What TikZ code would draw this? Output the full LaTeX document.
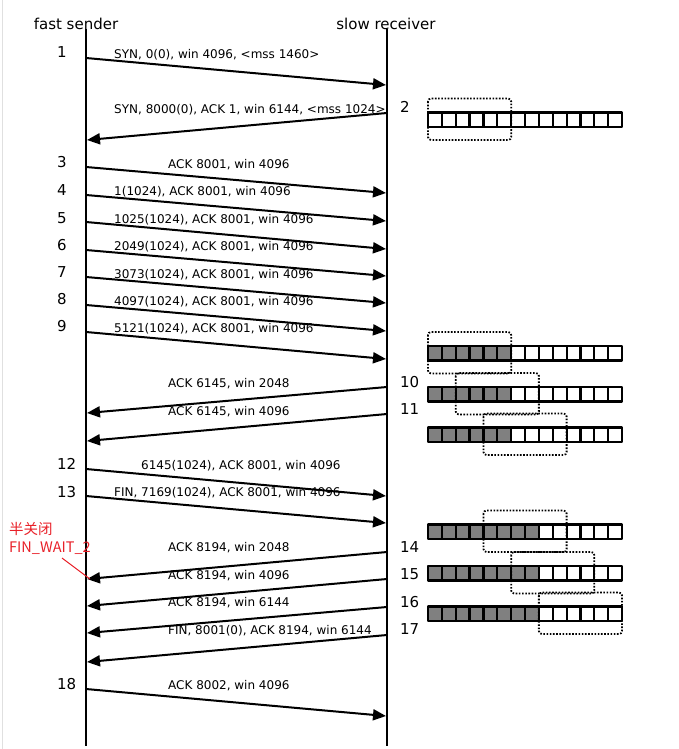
\documentclass[tikz,border=0pt]{standalone}
\usepackage{fontspec}
\setmainfont{DejaVu Sans}
\newfontfamily\cjk{Noto Sans CJK SC}
\usetikzlibrary{arrows.meta}
\definecolor{cellgray}{HTML}{808080}
\definecolor{annred}{RGB}{232,32,40}
\begin{document}
\begin{tikzpicture}[x=1pt,y=-1pt,
  title/.style={font=\fontsize{15}{17}\selectfont, inner sep=0pt},
  num/.style={font=\fontsize{15}{17}\selectfont, inner sep=0pt, anchor=west},
  msg/.style={font=\fontsize{12}{14}\selectfont, inner sep=0pt, anchor=west},
  life/.style={line width=2pt},
  pkt/.style={line width=2pt, -{Triangle[length=13pt,width=11pt]}},
  cell/.style={line width=2.2pt, line join=round},
  win/.style={line width=1.8pt, dash pattern=on 1.6pt off 1.6pt, rounded corners=3pt},
  ann/.style={text=annred, inner sep=0pt, anchor=west, font=\cjk\fontsize{14.5}{16}\selectfont}]
\useasboundingbox (0,0) rectangle (679,749);
\draw[black!12, line width=1pt] (2.5,0) -- (2.5,749);

% titles and lifelines
\node[title] (snd) at (76,24) {fast sender};
\node[title] (rcv) at (386,24) {slow receiver};
\coordinate (stop) at (86,29);
\coordinate (sbot) at (86,746);
\coordinate (rtop) at (387,29);
\coordinate (rbot) at (387,746);
\draw[life] (stop) -- (sbot);
\draw[life] (rtop) -- (rbot);

% sender -> receiver
\foreach \i/\ys/\yr in {1/58/85, 3/167/193, 4/195/221, 5/222/249, 6/250/276, 7/277/303, 8/305/331, 9/332/359, 12/469/496, 13/496/523, 18/689/716}{
  \coordinate (s\i) at (86,\ys);
  \coordinate (r\i) at (386,\yr);
  \draw[pkt] (s\i) -- (r\i);
}
% receiver -> sender
\foreach \i/\yr/\ys in {2/113/140, 10/387/413, 11/414/441, 14/552/579, 15/579/606, 16/607/633, 17/635/662}{
  \coordinate (r\i) at (387,\yr);
  \coordinate (s\i) at (87,\ys);
  \draw[pkt] (r\i) -- (s\i);
}

% message labels
\node[msg] (m1) at (114,55) {SYN, 0(0), win 4096, <mss 1460>};
\node[msg] (m2) at (114,110) {SYN, 8000(0), ACK 1, win 6144, <mss 1024>};
\node[msg] (m3) at (168,165) {ACK 8001, win 4096};
\node[msg] (m4) at (114,192) {1(1024), ACK 8001, win 4096};
\node[msg] (m5) at (114,220) {1025(1024), ACK 8001, win 4096};
\node[msg] (m6) at (114,247) {2049(1024), ACK 8001, win 4096};
\node[msg] (m7) at (114,275) {3073(1024), ACK 8001, win 4096};
\node[msg] (m8) at (114,302) {4097(1024), ACK 8001, win 4096};
\node[msg] (m9) at (114,329) {5121(1024), ACK 8001, win 4096};
\node[msg] (m10) at (168,384) {ACK 6145, win 2048};
\node[msg] (m11) at (168,412) {ACK 6145, win 4096};
\node[msg] (m12) at (141,466) {6145(1024), ACK 8001, win 4096};
\node[msg] (m13) at (114,493) {FIN, 7169(1024), ACK 8001, win 4096};
\node[msg] (m14) at (168,548) {ACK 8194, win 2048};
\node[msg] (m15) at (168,576) {ACK 8194, win 4096};
\node[msg] (m16) at (168,603) {ACK 8194, win 6144};
\node[msg] (m17) at (168,631) {FIN, 8001(0), ACK 8194, win 6144};
\node[msg] (m18) at (168,686) {ACK 8002, win 4096};

% step numbers
\foreach \i/\y in {1/52, 3/162, 4/190, 5/218, 6/245, 7/272, 8/299, 9/326, 12/464, 13/492, 18/684}{
  \node[num] (n\i) at (57,\y) {\i};
}
\foreach \i/\y in {2/107, 10/382, 11/409, 14/547, 15/574, 16/602, 17/629}{
  \node[num] (n\i) at (400,\y) {\i};
}

% receive buffers
\def\cw{13.86}
\foreach \top/\nf/\bs in {112.5/0/0, 346/6/0, 387/6/2, 427.5/6/4, 524.5/8/4, 566/8/6, 606.5/8/8}{
  \foreach \c in {0,...,13}{
    \pgfmathsetmacro\xa{428+\c*\cw}
    \pgfmathsetmacro\xb{428+(\c+1)*\cw}
    \ifnum\c<\nf
      \filldraw[cell, fill=cellgray] (\xa,\top) rectangle (\xb,\top+14.5);
    \else
      \draw[cell, fill=white] (\xa,\top) rectangle (\xb,\top+14.5);
    \fi
  }
  \pgfmathsetmacro\wa{428+\bs*\cw}
  \pgfmathsetmacro\wb{428+(\bs+6)*\cw}
  \draw[win] (\wa,\top-14) rectangle (\wb,\top+27.5);
}

% annotation
\node[ann] (half) at (9,529) {半关闭};
\node[ann] (fw) at (9,548) {FIN\_WAIT\_2};
\coordinate (fwfoot) at (62,558);
\coordinate (fwtip) at (90,579);
\draw[annred, line width=1pt] (fwfoot) -- (fwtip);
\end{tikzpicture}
\end{document}
